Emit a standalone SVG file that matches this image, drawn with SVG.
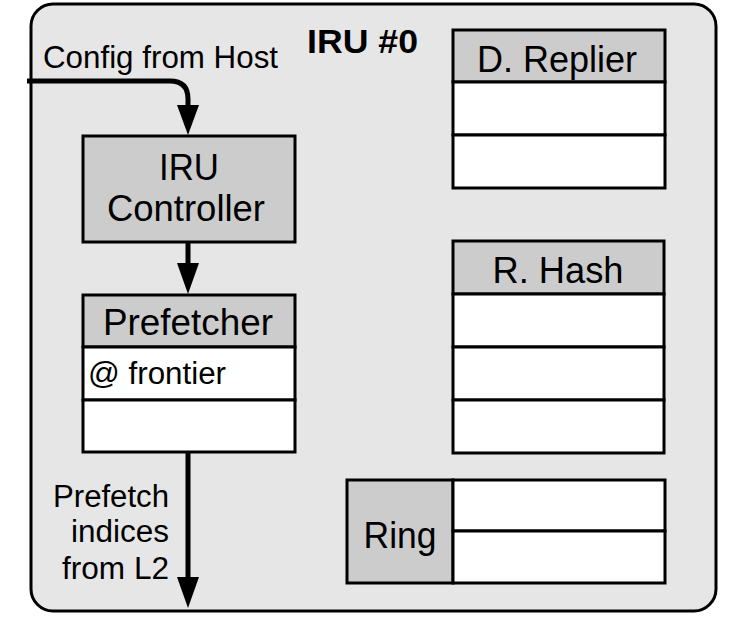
<svg xmlns="http://www.w3.org/2000/svg" width="748" height="644" viewBox="0 0 748 644">
<style>
text{font-family:"Liberation Sans",Arial,sans-serif;fill:#000}
.hdr{fill:#cccccc;stroke:#000;stroke-width:3}
.row{fill:#ffffff;stroke:#000;stroke-width:3}
.lbl{font-size:37px;text-anchor:middle}
.side{font-size:31px;text-anchor:end}
.wire{fill:none;stroke:#000;stroke-width:5}
.head{fill:#000;stroke:none}
</style>
<rect id="iru" x="31" y="4" width="685" height="607" rx="22" fill="#e6e6e6" stroke="#000" stroke-width="3"/>
<text x="307" y="53" font-size="34" font-weight="bold" textLength="111" lengthAdjust="spacingAndGlyphs">IRU #0</text>
<text x="43" y="68" font-size="31" textLength="235" lengthAdjust="spacingAndGlyphs">Config from Host</text>

<g id="controller">
<rect class="hdr" x="83" y="136" width="212" height="106"/>
<text class="lbl" x="189" y="180" textLength="60" lengthAdjust="spacingAndGlyphs">IRU</text>
<text class="lbl" x="186" y="221" textLength="158" lengthAdjust="spacingAndGlyphs">Controller</text>
</g>

<g id="prefetcher">
<rect class="hdr" x="83" y="295" width="212" height="52"/>
<rect class="row" x="83" y="347" width="212" height="53"/>
<rect class="row" x="83" y="400" width="212" height="52"/>
<text class="lbl" x="188" y="335" textLength="170" lengthAdjust="spacingAndGlyphs">Prefetcher</text>
<text x="88" y="384" font-size="31" textLength="138" lengthAdjust="spacingAndGlyphs">@ frontier</text>
</g>

<g id="replier">
<rect class="hdr" x="453" y="30" width="212" height="52"/>
<rect class="row" x="453" y="82" width="212" height="53"/>
<rect class="row" x="453" y="135" width="212" height="53"/>
<text class="lbl" x="557" y="72" textLength="160" lengthAdjust="spacingAndGlyphs">D. Replier</text>
</g>

<g id="hash">
<rect class="hdr" x="453" y="241" width="211" height="53"/>
<rect class="row" x="453" y="294" width="211" height="53"/>
<rect class="row" x="453" y="347" width="211" height="53"/>
<rect class="row" x="453" y="400" width="211" height="53"/>
<text class="lbl" x="558" y="283" textLength="131" lengthAdjust="spacingAndGlyphs">R. Hash</text>
</g>

<g id="ring">
<rect class="hdr" x="347" y="480" width="106" height="103"/>
<rect class="row" x="453" y="480" width="212" height="51"/>
<rect class="row" x="453" y="531" width="212" height="52"/>
<text class="lbl" x="400" y="548" font-size="36" textLength="73" lengthAdjust="spacingAndGlyphs">Ring</text>
</g>

<g id="prefetch-label">
<text class="side" x="169" y="507" textLength="116" lengthAdjust="spacingAndGlyphs">Prefetch</text>
<text class="side" x="169" y="542" textLength="98" lengthAdjust="spacingAndGlyphs">indices</text>
<text class="side" x="169" y="579" textLength="107" lengthAdjust="spacingAndGlyphs">from L2</text>
</g>

<g id="connectors">
<path class="wire" d="M27,81 H170 Q188,81 188,99 V108"/>
<polygon class="head" points="177,105 199,105 188,135"/>
<path class="wire" d="M188,242 V266"/>
<polygon class="head" points="177,263 199,263 188,294"/>
<path class="wire" d="M188,452 V580"/>
<polygon class="head" points="177,577 199,577 188,608"/>
</g>
</svg>
